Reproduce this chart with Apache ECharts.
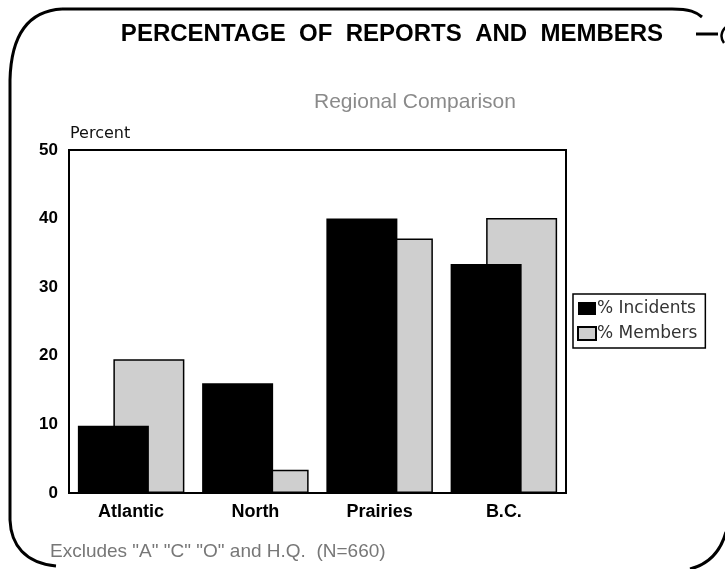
<!DOCTYPE html>
<html>
<head>
<meta charset="utf-8">
<script src="https://cdn.jsdelivr.net/npm/echarts@6/dist/echarts.min.js"></script>
<style>
html,body{margin:0;padding:0;background:#fff;}
#chart{width:725px;height:569px;}
</style>
</head>
<body>
<div id="chart"></div>
<script>
var categories = ['Atlantic', 'North', 'Prairies', 'B.C.'];
var incidents = [9.8, 16.0, 40.0, 33.4];
var members = [19.5, 3.4, 37.1, 40.1];
var seriesNames = ['% Incidents', '% Members'];
var yTicks = [0, 10, 20, 30, 40, 50];

var chart = echarts.init(document.getElementById('chart'));
var FONT = '"Liberation Sans", Arial, sans-serif';
var WIDE = '"DejaVu Sans", sans-serif';
var frameStyle = {fill: null, stroke: '#000', lineWidth: 3};
chart.setOption({
  animation: false,
  backgroundColor: '#fff',
  title: [{
    text: 'PERCENTAGE  OF  REPORTS  AND  MEMBERS',
    left: 387, textAlign: 'center', top: 17,
    textStyle: {fontFamily: FONT, fontWeight: 'bold', fontSize: 24, color: '#000'}
  }, {
    text: 'Regional Comparison',
    left: 410, textAlign: 'center', top: 87,
    textStyle: {fontFamily: FONT, fontWeight: 'normal', fontSize: 21, color: '#8a8a8a'}
  }, {
    text: 'Excludes "A" "C" "O" and H.Q.  (N=660)',
    left: 45, top: 537,
    textStyle: {fontFamily: FONT, fontWeight: 'normal', fontSize: 19, color: '#777'}
  }],
  legend: {
    orient: 'vertical',
    left: 573, top: 294,
    data: seriesNames,
    icon: 'rect',
    itemWidth: 18, itemHeight: 13, itemGap: 8,
    borderColor: '#000', borderWidth: 1.5, borderRadius: 0,
    padding: [6, 8, 6, 4],
    textStyle: {fontFamily: WIDE, fontSize: 17, color: '#333', padding: [0, 0, 0, -4]}
  },
  grid: {
    left: 69, right: 159, top: 150, bottom: 76,
    show: true, borderColor: '#000', borderWidth: 2, backgroundColor: 'transparent'
  },
  xAxis: {
    type: 'category',
    data: categories,
    axisLine: {lineStyle: {color: '#000', width: 2}},
    axisTick: {show: false},
    axisLabel: {fontFamily: FONT, fontWeight: 'bold', fontSize: 18, color: '#000', margin: 10}
  },
  yAxis: {
    type: 'value',
    min: yTicks[0], max: yTicks[yTicks.length - 1], interval: 10,
    name: 'Percent',
    nameLocation: 'end', nameGap: 8,
    nameTextStyle: {fontFamily: WIDE, fontSize: 16, color: '#111', align: 'left', padding: [0, 0, 0, 1]},
    axisLine: {show: true, lineStyle: {color: '#000', width: 2}},
    axisTick: {show: false},
    splitLine: {show: false},
    axisLabel: {fontFamily: FONT, fontWeight: 'bold', fontSize: 17, color: '#000', margin: 11}
  },
  series: [{
    name: seriesNames[0],
    type: 'bar',
    data: incidents,
    barWidth: 71,
    barGap: '-50%',
    z: 3,
    itemStyle: {color: '#000', borderColor: '#000', borderWidth: 0}
  }, {
    name: seriesNames[1],
    type: 'bar',
    data: members,
    barWidth: 71,
    z: 2,
    itemStyle: {color: '#cfcfcf', borderColor: '#000', borderWidth: 1.5}
  }],
  graphic: [{
    type: 'line', shape: {x1: 62, y1: 9, x2: 672, y2: 9}, style: frameStyle
  }, {
    type: 'bezierCurve', shape: {x1: 672, y1: 9, cpx1: 690, cpy1: 9, cpx2: 696, cpy2: 12, x2: 702, y2: 17}, style: frameStyle
  }, {
    type: 'bezierCurve', shape: {x1: 62, y1: 9, cpx1: 25, cpy1: 11, cpx2: 11, cpy2: 40, x2: 10, y2: 80}, style: frameStyle
  }, {
    type: 'line', shape: {x1: 10, y1: 80, x2: 10, y2: 520}, style: frameStyle
  }, {
    type: 'bezierCurve', shape: {x1: 10, y1: 520, cpx1: 11, cpy1: 545, cpx2: 25, cpy2: 563, x2: 56, y2: 566}, style: frameStyle
  }, {
    type: 'bezierCurve', shape: {x1: 726, y1: 532, cpx1: 721, cpy1: 550, cpx2: 710, cpy2: 564, x2: 690, y2: 569}, style: frameStyle
  }, {
    type: 'line', shape: {x1: 696, y1: 34, x2: 718, y2: 34}, style: frameStyle
  }, {
    type: 'bezierCurve', shape: {x1: 726, y1: 27, cpx1: 721, cpy1: 31, cpx2: 720, cpy2: 38, x2: 724, y2: 43},
    style: {fill: null, stroke: '#000', lineWidth: 2.5}
  }]
});
</script>
</body>
</html>
